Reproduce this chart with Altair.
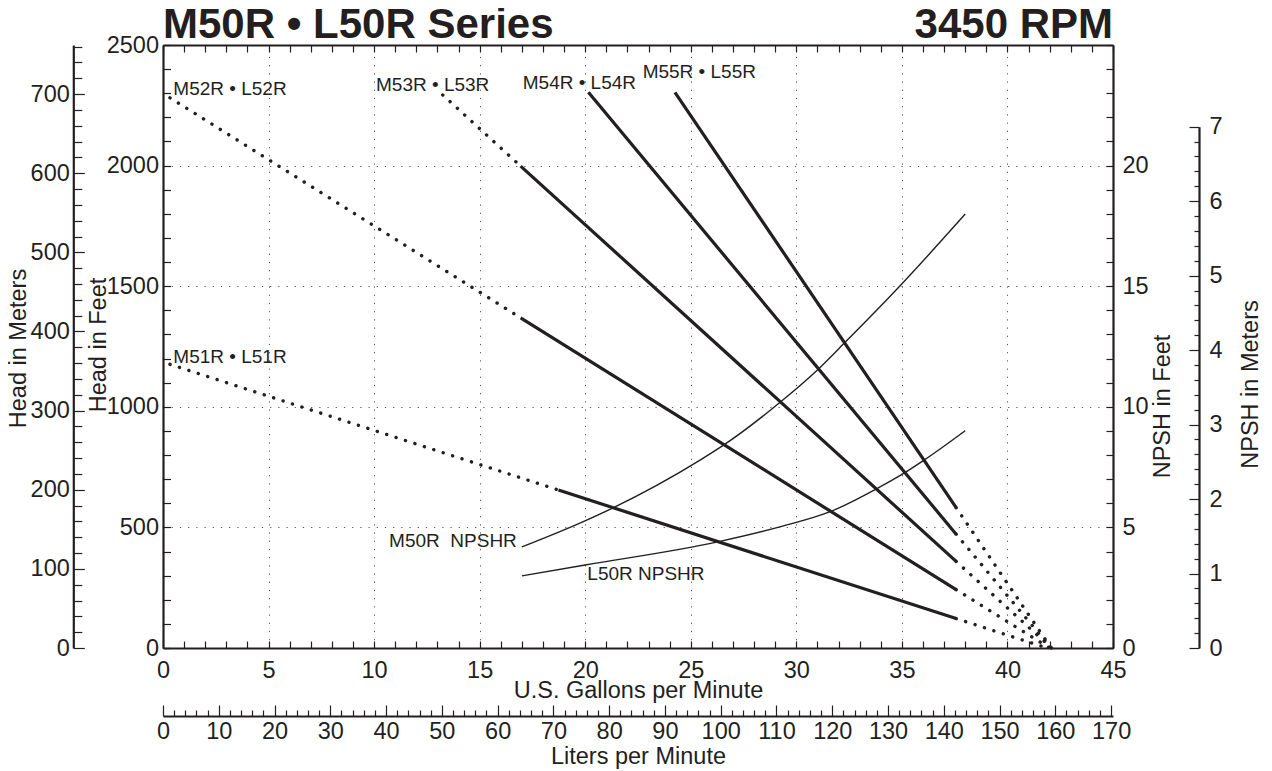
import altair as alt
import pandas as pd

FONT = "Liberation Sans"
INK = "#231f20"
W, H = 950, 603
FS = 23.5

# ---------------- data ----------------
# head-capacity curves (feet of head vs U.S. gpm)
series = ["M51R", "M52R", "M53R", "M54R", "M55R"]
series_labels = ["M51R \u2022 L51R", "M52R \u2022 L52R", "M53R \u2022 L53R",
                 "M54R \u2022 L54R", "M55R \u2022 L55R"]
lead_gpm = [0.33, 0.33, 13.25, None, None]
lead_ft = [1176, 2281, 2293, None, None]
solid_start_gpm = [18.73, 16.94, 16.94, 20.15, 24.25]
solid_start_ft = [655, 1369, 1998, 2304, 2304]
solid_end_gpm = [37.57, 37.57, 37.57, 37.57, 37.57]
solid_end_ft = [122, 242, 359, 472, 582]
runout_gpm = [41.88, 42.0, 42.09, 42.06, 42.07]
runout_ft = [0, 0, 0, 0, 0]
label_gpm = [0.49, 0.49, 10.09, 17.04, 22.72]
label_ft = [1180, 2293, 2309, 2318, 2365]

# NPSHR curves (feet of NPSH vs U.S. gpm)
m50r_gpm = [17.0, 19.91, 21.27, 25.44, 26.57, 29.26, 31.0, 32.26, 34.95, 38.0]
m50r_npsh = [4.19, 5.24, 5.79, 7.79, 8.42, 10.21, 11.53, 12.63, 15.05, 17.99]
l50r_gpm = [17.0, 20.0, 26.33, 29.26, 31.6, 33.84, 35.14, 36.05, 38.0]
l50r_npsh = [2.99, 3.44, 4.41, 5.03, 5.65, 6.62, 7.27, 7.79, 9.01]
npshr_names = ["M50R\u00a0 NPSHR", "L50R NPSHR"]
npshr_label_gpm = [16.76, 20.1]
npshr_label_ft = [420, 282]

titles = ["M50R \u2022 L50R Series", "3450 RPM"]
title_gpm = [0, 45]

# axis domains and tick values
gpm_domain = [0, 45]
ft_domain = [0, 2500]
m_domain = [0, 762]
npsh_ft_domain = [0, 25]
npsh_m_domain = [0, 7]
lpm_domain = [0, 170.34]

gpm_labels = list(range(0, 46, 5))
gpm_ticks = list(range(0, 46))
lpm_labels = list(range(0, 171, 10))
lpm_ticks = list(range(0, 171, 2))
ft_labels = list(range(0, 2501, 500))
ft_ticks = list(range(0, 2501, 100))
m_labels = list(range(0, 701, 100))
m_ticks = list(range(0, 761, 20))
npsh_ft_labels = [0, 5, 10, 15, 20]
npsh_ft_ticks = list(range(0, 26))
npsh_m_labels = list(range(0, 8))
npsh_m_minor = [round(i * 0.2, 1) for i in range(36) if i % 5 != 0]

# ---------------- tables ----------------
solid_rows, dot_rows = [], []
for i, s in enumerate(series):
    solid_rows.append(dict(seg=s, gpm=solid_start_gpm[i], ft=solid_start_ft[i]))
    solid_rows.append(dict(seg=s, gpm=solid_end_gpm[i], ft=solid_end_ft[i]))
    if lead_gpm[i] is not None:
        dot_rows.append(dict(seg=s + "a", gpm=lead_gpm[i], ft=lead_ft[i]))
        dot_rows.append(dict(seg=s + "a", gpm=solid_start_gpm[i], ft=solid_start_ft[i]))
    dot_rows.append(dict(seg=s + "b", gpm=solid_end_gpm[i], ft=solid_end_ft[i]))
    dot_rows.append(dict(seg=s + "b", gpm=runout_gpm[i], ft=runout_ft[i]))
df_solid = pd.DataFrame(solid_rows)
df_dot = pd.DataFrame(dot_rows)
df_npsh = pd.concat([
    pd.DataFrame({"curve": "M50R", "gpm": m50r_gpm, "npsh": m50r_npsh}),
    pd.DataFrame({"curve": "L50R", "gpm": l50r_gpm, "npsh": l50r_npsh}),
])
df_lab = pd.DataFrame({"t": series_labels, "gpm": label_gpm, "ft": label_ft})
df_nlab = pd.DataFrame({"t": npshr_names, "gpm": npshr_label_gpm, "ft": npshr_label_ft})
df_title = pd.DataFrame({"t": titles, "gpm": title_gpm})


def sc(domain, rng=None):
    if rng is None:
        return alt.Scale(domain=domain, nice=False, zero=False)
    return alt.Scale(domain=domain, nice=False, zero=False, range=rng)


def ax(**kw):
    d = dict(labelFont=FONT, labelFontSize=FS, labelColor=INK,
             titleFont=FONT, titleFontSize=FS, titleFontWeight="normal", titleColor=INK,
             domainColor=INK, domainWidth=2.2, tickColor=INK, tickWidth=1.2,
             labelOverlap=False, labelFlush=False, grid=False, title=None)
    d.update(kw)
    return alt.Axis(**d)


def xlayer(domain, axis):
    df = pd.DataFrame({"v": domain})
    return alt.Chart(df).mark_point(opacity=0).encode(
        x=alt.X("v:Q", scale=sc(domain), axis=axis))


def ylayer(domain, axis, rng=None):
    df = pd.DataFrame({"v": domain})
    return alt.Chart(df).mark_point(opacity=0).encode(
        y=alt.Y("v:Q", scale=sc(domain, rng), axis=axis))


GRID = dict(grid=True, gridDash=[1.2, 7], gridColor="#555555", gridWidth=1)
npsh_m_range = [H, H - 7 * 74.47]

layers = [
    # --- gpm axes / frame bottom & top ---
    xlayer(gpm_domain, ax(orient="bottom", values=gpm_labels, ticks=False, format="d",
                          labelPadding=29, labelBaseline="alphabetic",
                          title="U.S. Gallons per Minute", titleX=W / 2, titleY=49,
                          titleBaseline="alphabetic", titleAlign="center", **GRID)),
    xlayer(gpm_domain, ax(orient="top", offset=-H, values=gpm_ticks, tickSize=7,
                          labels=False, domain=False)),
    xlayer(gpm_domain, ax(orient="bottom", offset=-H, values=gpm_ticks, tickSize=7,
                          labels=False, domain=True)),
    # --- liters axis ---
    xlayer(lpm_domain, ax(orient="bottom", offset=68, values=lpm_labels, ticks=False, format="d",
                          labelPadding=22.5, labelBaseline="alphabetic",
                          title="Liters per Minute", titleX=W / 2, titleY=47,
                          titleBaseline="alphabetic", titleAlign="center")),
    xlayer(lpm_domain, ax(orient="top", offset=-(H + 68), values=lpm_ticks,
                          tickSize={"condition": {"test": "datum.value % 10 === 0", "value": 11}, "value": 6},
                          labels=False, domain=False)),
    # --- head in feet (left frame) ---
    ylayer(ft_domain, ax(orient="left", values=ft_labels, ticks=False, labelPadding=4.5, format="d",
                         title="Head in Feet", titleX=-65, titleY=299.5, titleAngle=270,
                         titleBaseline="middle", titleAlign="center", **GRID)),
    ylayer(ft_domain, ax(orient="right", offset=-W, values=ft_ticks, tickSize=7.5,
                         labels=False, domain=False)),
    # --- NPSH in feet (right frame) ---
    ylayer(npsh_ft_domain, ax(orient="right", values=npsh_ft_labels, ticks=False, format="d",
                              labelPadding=9, title="NPSH in Feet", titleX=49, titleY=361,
                              titleAngle=270, titleBaseline="middle", titleAlign="center")),
    ylayer(npsh_ft_domain, ax(orient="left", offset=-W, values=npsh_ft_ticks, tickSize=7,
                              labels=False, domain=False)),
    # --- head in meters (far left) ---
    ylayer(m_domain, ax(orient="left", offset=89.7, values=m_labels, ticks=False, format="d",
                        labelPadding=4, title="Head in Meters", titleX=-54.8, titleY=303,
                        titleAngle=270, titleBaseline="middle", titleAlign="center")),
    ylayer(m_domain, ax(orient="right", offset=-(W + 89.7), values=m_ticks,
                        tickSize={"condition": {"test": "datum.value % 100 === 0", "value": 11}, "value": 8.5},
                        labels=False, domain=False)),
    # --- NPSH in meters (far right) ---
    ylayer(npsh_m_domain, ax(orient="right", offset=86, values=npsh_m_labels, ticks=False, format="d",
                             labelPadding=10, title="NPSH in Meters", titleX=51, titleY=339,
                             titleAngle=270, titleBaseline="middle", titleAlign="center"),
           rng=npsh_m_range),
    ylayer(npsh_m_domain, ax(orient="left", offset=-(W + 86), values=npsh_m_labels,
                             tickSize=10, labels=False, domain=False),
           rng=npsh_m_range),
    ylayer(npsh_m_domain, ax(orient="left", offset=-(W + 86), values=npsh_m_minor,
                             tickSize=5, labels=False, domain=False),
           rng=npsh_m_range),
    # --- data ---
    alt.Chart(df_npsh).mark_line(color=INK, strokeWidth=1.4, interpolate="monotone").encode(
        x=alt.X("gpm:Q", scale=sc(gpm_domain), axis=None),
        y=alt.Y("npsh:Q", scale=sc(npsh_ft_domain), axis=None),
        detail="curve:N"),
    alt.Chart(df_dot).mark_line(color=INK, strokeWidth=3.4, strokeDash=[0.1, 9.8],
                                strokeCap="round").encode(
        x=alt.X("gpm:Q", scale=sc(gpm_domain), axis=None),
        y=alt.Y("ft:Q", scale=sc(ft_domain), axis=None),
        detail="seg:N"),
    alt.Chart(df_solid).mark_line(color=INK, strokeWidth=3.2).encode(
        x=alt.X("gpm:Q", scale=sc(gpm_domain), axis=None),
        y=alt.Y("ft:Q", scale=sc(ft_domain), axis=None),
        detail="seg:N"),
    alt.Chart(df_lab).mark_text(font=FONT, fontSize=19, color=INK, align="left",
                                baseline="alphabetic").encode(
        x=alt.X("gpm:Q", scale=sc(gpm_domain), axis=None),
        y=alt.Y("ft:Q", scale=sc(ft_domain), axis=None),
        text="t:N"),
    alt.Chart(df_nlab.iloc[[0]]).mark_text(font=FONT, fontSize=19, color=INK, align="right",
                                           baseline="alphabetic").encode(
        x=alt.X("gpm:Q", scale=sc(gpm_domain), axis=None),
        y=alt.Y("ft:Q", scale=sc(ft_domain), axis=None),
        text="t:N"),
    alt.Chart(df_nlab.iloc[[1]]).mark_text(font=FONT, fontSize=19, color=INK, align="left",
                                           baseline="alphabetic").encode(
        x=alt.X("gpm:Q", scale=sc(gpm_domain), axis=None),
        y=alt.Y("ft:Q", scale=sc(ft_domain), axis=None),
        text="t:N"),
    alt.Chart(df_title.iloc[[0]]).mark_text(font=FONT, fontSize=42, fontWeight="bold", color=INK,
                                            align="left", baseline="alphabetic").encode(
        x=alt.X("gpm:Q", scale=sc(gpm_domain), axis=None),
        y=alt.value(-7), text="t:N"),
    alt.Chart(df_title.iloc[[1]]).mark_text(font=FONT, fontSize=42, fontWeight="bold", color=INK,
                                            align="right", baseline="alphabetic").encode(
        x=alt.X("gpm:Q", scale=sc(gpm_domain), axis=None),
        y=alt.value(-7), text="t:N"),
]

chart = alt.layer(*layers).resolve_scale(x="independent", y="independent").properties(
    width=W, height=H,
    autosize=alt.AutoSizeParams(type="none"),
    padding={"left": 155, "top": 37, "right": 150, "bottom": 123},
).configure_view(stroke=None).configure(font=FONT)

chart.save("out.html", embed_options={"renderer": "svg", "actions": False})
